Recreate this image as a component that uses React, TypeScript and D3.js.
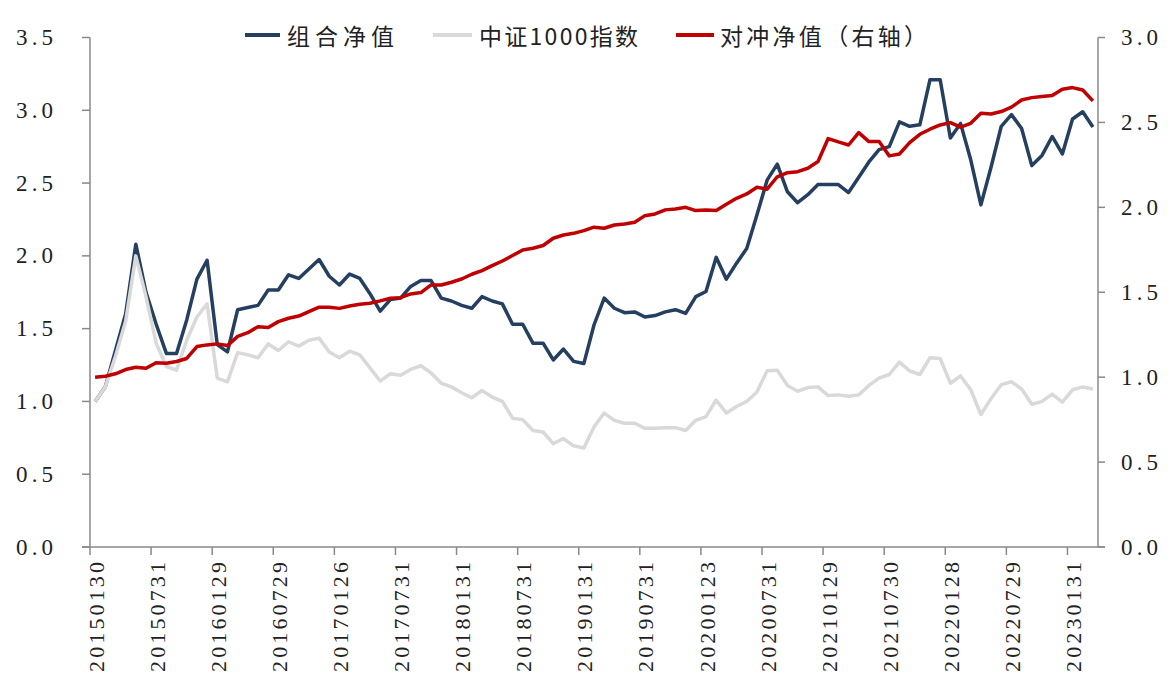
import React from "react";
import * as d3 from "d3";

// ---- Data (monthly, 2015-01 .. 2023-03) ----
const portfolioNav: number[] = [
  1.00, 1.10, 1.35, 1.60, 2.08, 1.75, 1.53, 1.33, 1.33, 1.56,
  1.84, 1.97, 1.39, 1.34, 1.63, 1.645, 1.66, 1.765, 1.765, 1.87,
  1.845, 1.91, 1.975, 1.86, 1.80, 1.875, 1.845, 1.74, 1.62, 1.70,
  1.71, 1.79, 1.83, 1.83, 1.71, 1.69, 1.66, 1.64, 1.72, 1.69,
  1.67, 1.53, 1.53, 1.40, 1.40, 1.285, 1.36, 1.275, 1.26, 1.525,
  1.71, 1.64, 1.61, 1.615, 1.58, 1.59, 1.615, 1.63, 1.605, 1.72,
  1.755, 1.99, 1.84, 1.95, 2.05, 2.28, 2.52, 2.63, 2.44, 2.365,
  2.42, 2.49, 2.49, 2.49, 2.435, 2.54, 2.645, 2.73, 2.75, 2.92,
  2.89, 2.90, 3.21, 3.21, 2.81, 2.91, 2.66, 2.35, 2.61, 2.89,
  2.97, 2.875, 2.62, 2.69, 2.82, 2.70, 2.94, 2.99, 2.885,
];

const csi1000: number[] = [
  1.00, 1.10, 1.31, 1.55, 2.00, 1.72, 1.40, 1.24, 1.215, 1.42,
  1.58, 1.67, 1.16, 1.135, 1.335, 1.32, 1.30, 1.395, 1.35, 1.41,
  1.38, 1.42, 1.435, 1.34, 1.30, 1.345, 1.32, 1.23, 1.14, 1.19,
  1.18, 1.22, 1.245, 1.195, 1.125, 1.10, 1.06, 1.025, 1.075, 1.03,
  1.00, 0.885, 0.875, 0.80, 0.79, 0.71, 0.745, 0.695, 0.68, 0.825,
  0.92, 0.87, 0.85, 0.85, 0.815, 0.815, 0.82, 0.82, 0.80, 0.87,
  0.895, 1.01, 0.92, 0.965, 1.00, 1.065, 1.21, 1.215, 1.11, 1.07,
  1.095, 1.10, 1.04, 1.045, 1.035, 1.045, 1.11, 1.16, 1.185, 1.27,
  1.21, 1.185, 1.30, 1.295, 1.125, 1.175, 1.08, 0.91, 1.02, 1.115,
  1.135, 1.085, 0.98, 1.00, 1.05, 0.995, 1.08, 1.10, 1.085,
];

const hedgedNav: number[] = [
  1.00, 1.005, 1.02, 1.045, 1.058, 1.052, 1.085, 1.082, 1.092, 1.11,
  1.18, 1.19, 1.196, 1.186, 1.24, 1.262, 1.297, 1.292, 1.327, 1.347,
  1.36, 1.386, 1.412, 1.412, 1.405, 1.419, 1.429, 1.435, 1.449, 1.465,
  1.468, 1.49, 1.498, 1.543, 1.543, 1.559, 1.578, 1.606, 1.627, 1.657,
  1.684, 1.716, 1.749, 1.759, 1.775, 1.818, 1.837, 1.847, 1.863, 1.883,
  1.877, 1.896, 1.902, 1.912, 1.951, 1.961, 1.985, 1.99, 2.0, 1.981,
  1.985, 1.981, 2.018, 2.053, 2.079, 2.118, 2.107, 2.18, 2.204, 2.21,
  2.23, 2.27, 2.405, 2.385, 2.367, 2.44, 2.387, 2.387, 2.303, 2.314,
  2.381, 2.43, 2.46, 2.485, 2.499, 2.472, 2.495, 2.554, 2.55, 2.564,
  2.59, 2.632, 2.646, 2.652, 2.658, 2.695, 2.705, 2.691, 2.627,
];

const tickLabels: string[] = [
  "20150130", "20150731", "20160129", "20160729", "20170126", "20170731",
  "20180131", "20180731", "20190131", "20190731", "20200123", "20200731",
  "20210129", "20210730", "20220128", "20220729", "20230131",
];

const leftTicks: number[] = [0, 0.5, 1.0, 1.5, 2.0, 2.5, 3.0, 3.5];
const rightTicks: number[] = [0, 0.5, 1.0, 1.5, 2.0, 2.5, 3.0];

const seriesNames = ["组合净值", "中证1000指数", "对冲净值（右轴）"];

// categories: month index
const categories: number[] = portfolioNav.map((_, i) => i);

const COLORS = { blue: "#243F60", gray: "#D9D9D9", red: "#C00000", axis: "#898989" };

export default function App() {
  const W = 1173;
  const H = 681;
  const left = 90;
  const right = 1098;
  const top = 37.5;
  const bottom = 547;

  const x = d3.scaleBand<number>().domain(categories).range([left, right]).padding(0);
  const bw = x.bandwidth();
  const cx = (i: number) => (x(i) as number) + bw / 2;
  const yL = d3.scaleLinear().domain([0, 3.5]).range([bottom, top]);
  const yR = d3.scaleLinear().domain([0, 3]).range([bottom, top]);

  const lineL = d3.line<number>().x((_, i) => cx(i)).y((d) => yL(d));
  const lineR = d3.line<number>().x((_, i) => cx(i)).y((d) => yR(d));

  const serif = "'Liberation Serif', 'Times New Roman', serif";
  const cjk = "'Noto Sans CJK SC', 'Noto Sans', sans-serif";

  const tickIdx = tickLabels.map((_, k) => k * 6);

  const legend = [
    { name: seriesNames[0], color: COLORS.blue, x1: 245, x2: 280, tx: 287, tl: 107 },
    { name: seriesNames[1], color: COLORS.gray, x1: 433, x2: 472, tx: 479, tl: 159 },
    { name: seriesNames[2], color: COLORS.red, x1: 676, x2: 714, tx: 720, tl: 207 },
  ];

  return (
    <svg
      width={W}
      height={H}
      viewBox={`0 0 ${W} ${H}`}
      style={{ position: "absolute", left: 0, top: 0, background: "#fff" }}
    >
      {/* axes */}
      <line x1={left} x2={left} y1={top} y2={bottom} stroke={COLORS.axis} strokeWidth={1.5} />
      <line x1={right} x2={right} y1={top} y2={bottom} stroke={COLORS.axis} strokeWidth={1.5} />
      <line x1={left - 8} x2={right + 7} y1={bottom} y2={bottom} stroke={COLORS.axis} strokeWidth={1.5} />

      {leftTicks.map((t) => (
        <g key={"l" + t}>
          <line x1={left - 8} x2={left} y1={yL(t)} y2={yL(t)} stroke={COLORS.axis} strokeWidth={1.5} />
          <text
            x={16}
            y={yL(t)}
            dominantBaseline="central"
            fontFamily={serif}
            fontSize={23}
            fill="#222"
            textLength={37}
            lengthAdjust="spacing"
          >
            {t.toFixed(1)}
          </text>
        </g>
      ))}

      {rightTicks.map((t) => (
        <g key={"r" + t}>
          <line x1={right} x2={right + 7} y1={yR(t)} y2={yR(t)} stroke={COLORS.axis} strokeWidth={1.5} />
          <text
            x={1121}
            y={yR(t)}
            dominantBaseline="central"
            fontFamily={serif}
            fontSize={23}
            fill="#222"
            textLength={37}
            lengthAdjust="spacing"
          >
            {t.toFixed(1)}
          </text>
        </g>
      ))}

      {tickIdx.map((idx, k) => (
        <g key={"x" + idx}>
          <line
            x1={x(idx) as number}
            x2={x(idx) as number}
            y1={bottom}
            y2={bottom + 8}
            stroke={COLORS.axis}
            strokeWidth={1.5}
          />
          <text
            transform={`translate(${cx(idx) + 1},${672}) rotate(-90)`}
            x={0}
            y={0}
            dominantBaseline="central"
            fontFamily={serif}
            fontSize={22}
            fill="#222"
            textLength={110}
            lengthAdjust="spacing"
          >
            {tickLabels[k]}
          </text>
        </g>
      ))}

      {/* series */}
      <path d={lineL(portfolioNav) || ""} fill="none" stroke={COLORS.blue} strokeWidth={3.5} strokeLinejoin="round" />
      <path d={lineL(csi1000) || ""} fill="none" stroke={COLORS.gray} strokeWidth={3.5} strokeLinejoin="round" />
      <path d={lineR(hedgedNav) || ""} fill="none" stroke={COLORS.red} strokeWidth={3.5} strokeLinejoin="round" />

      {/* legend */}
      {legend.map((l) => (
        <g key={l.name}>
          <line x1={l.x1} x2={l.x2} y1={35} y2={35} stroke={l.color} strokeWidth={4} />
          <text
            x={l.tx}
            y={35}
            dominantBaseline="central"
            fontFamily={cjk}
            fontSize={23}
            fill="#222"
            textLength={l.tl}
            lengthAdjust="spacing"
          >
            {l.name}
          </text>
        </g>
      ))}
    </svg>
  );
}
